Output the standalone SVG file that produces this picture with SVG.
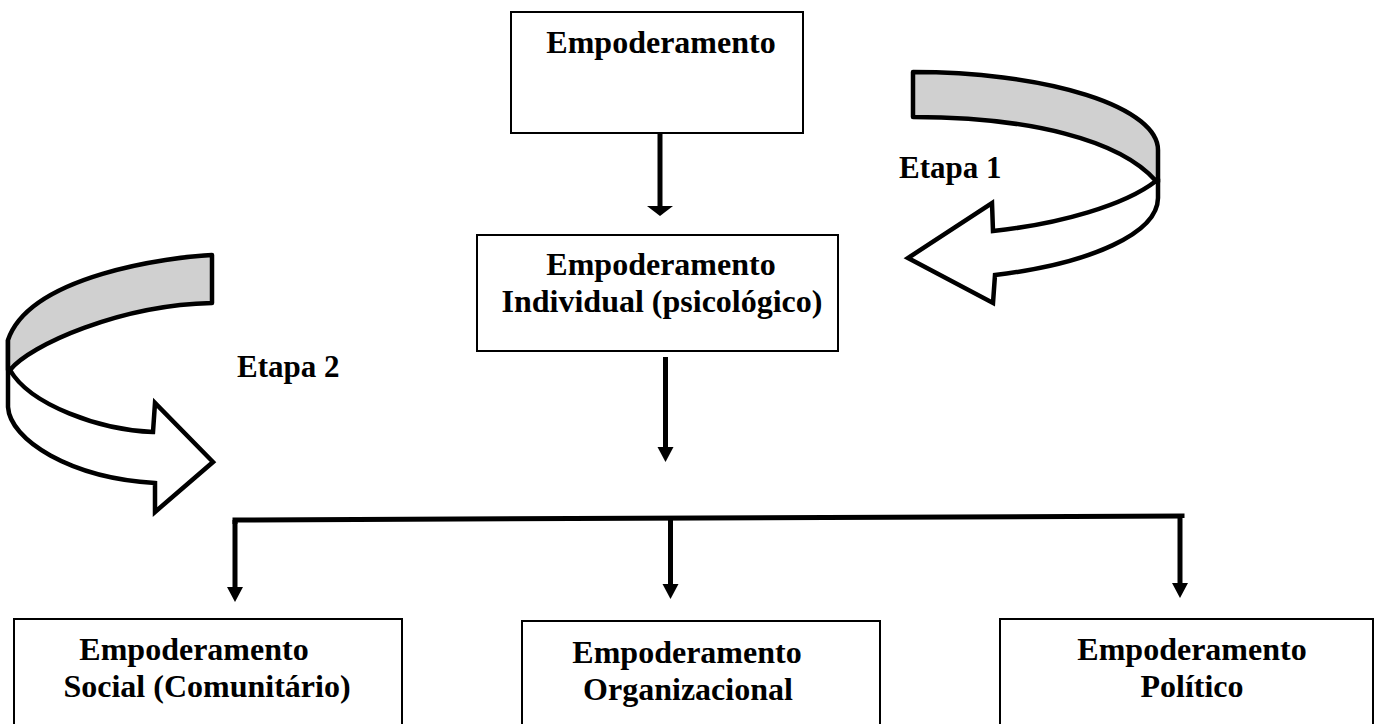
<svg xmlns="http://www.w3.org/2000/svg" width="1390" height="724" viewBox="0 0 1390 724">
<style>
.box{fill:#fff;stroke:#000;stroke-width:2}
.t{font-family:"Liberation Serif","Times New Roman",serif;font-weight:bold;font-size:32px;fill:#000;text-anchor:middle}
.lbl{font-family:"Liberation Serif","Times New Roman",serif;font-weight:bold;font-size:31px;fill:#000}
.ln{stroke:#000;stroke-width:5;fill:none}
.band{fill:#d0d0d0;stroke:#000;stroke-width:4.5;stroke-linejoin:round}
.shaft{fill:#fff;stroke:#000;stroke-width:4.5;stroke-linejoin:miter}
</style>
<defs>
<marker id="ah" markerUnits="userSpaceOnUse" markerWidth="16" markerHeight="16" refX="0" refY="8" orient="auto" overflow="visible">
<path d="M0,0 L15,8 L0,16 Z" fill="#000"/>
</marker>
<marker id="ahw" markerUnits="userSpaceOnUse" markerWidth="11" markerHeight="26" refX="0" refY="13" orient="auto" overflow="visible">
<path d="M0,0 L10,13 L0,26 Z" fill="#000"/>
</marker>
</defs>
<g id="node-empoderamento">
<rect class="box" x="511" y="12" width="292" height="121"/>
<text class="t" x="661" y="53">Empoderamento</text>
</g>
<g id="node-individual">
<rect class="box" x="477" y="235" width="361" height="116"/>
<text class="t" x="661" y="275">Empoderamento</text>
<text class="t" x="662" y="312">Individual (psicológico)</text>
</g>
<g id="node-social">
<rect class="box" x="14" y="619" width="388" height="120"/>
<text class="t" x="194" y="660">Empoderamento</text>
<text class="t" x="207" y="697">Social (Comunitário)</text>
</g>
<g id="node-organizacional">
<rect class="box" x="522" y="621" width="358" height="120"/>
<text class="t" x="687" y="663">Empoderamento</text>
<text class="t" x="688" y="700">Organizacional</text>
</g>
<g id="node-politico">
<rect class="box" x="1000" y="619" width="373" height="120"/>
<text class="t" x="1192" y="660">Empoderamento</text>
<text class="t" x="1192" y="697">Político</text>
</g>
<g id="etapa1">
<path class="shaft" d="M1156,181 L1158,181 L1158,198 A245,82 0 0 1 995,275 L993,303 L908,258 L992,203 L993,231 C1060,224 1125,205 1156,181 Z"/>
<path class="band" d="M913,72 A245,78 0 0 1 1158,150 L1158,182 L1156,181 C1120,140 1030,117 913,117 Z"/>
<text class="lbl" x="899" y="178">Etapa 1</text>
</g>
<g id="etapa2">
<path class="shaft" d="M8,340 L8,407 C10,440 70,478 155,483 L155,512 L213,462 L155,403 L153,432 C100,430 30,405 10,370 Z"/>
<path class="band" d="M212,255 C170,257 30,275 8,340 L8,370 L10,370 C30,345 120,305 212,303 Z"/>
<text class="lbl" x="237" y="377">Etapa 2</text>
</g>
<g id="connectors">
<line class="ln" x1="660" y1="133" x2="660" y2="206" marker-end="url(#ahw)"/>
<line class="ln" x1="665.5" y1="357" x2="665.5" y2="447" marker-end="url(#ah)"/>
<path class="ln" d="M235,524 L235,520 L1182,516 L1182,518"/>
<line class="ln" x1="235" y1="520" x2="235" y2="587" marker-end="url(#ah)"/>
<line class="ln" x1="670.5" y1="520" x2="670.5" y2="584" marker-end="url(#ah)"/>
<line class="ln" x1="1180" y1="516" x2="1180" y2="583" marker-end="url(#ah)"/>
</g>
</svg>
